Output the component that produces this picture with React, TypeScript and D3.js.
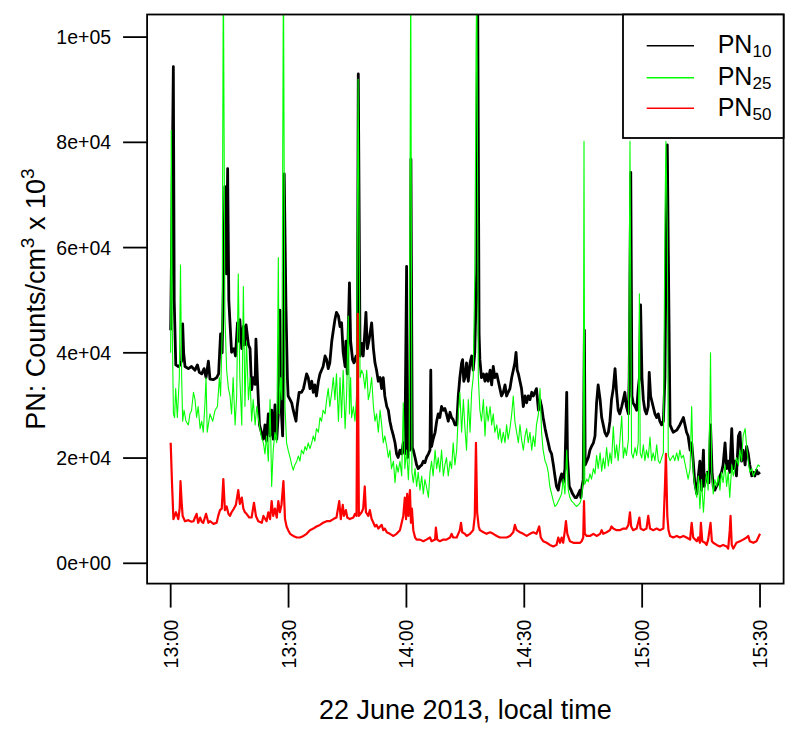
import React from "react";
import * as d3 from "d3";

// time in minutes after 13:00, values in thousands of counts
const pn10: [number, number][] = [
[0,44.3],[0.2,58],[0.68,94.4],[0.9,50],[1.3,37.7],[1.95,37.4],[2.37,37.7],[2.8,38.5],[3.05,45.5],[3.3,40],[3.65,37.4],[4.5,37.0],[5.3,37.4],[6.2,36.7],[6.8,37.7],[7.3,36.3],[7.9,36.0],[8.5,37.0],[9.0,35.3],[9.6,38.4],[10.0,35.0],[10.9,34.9],[11.7,35.3],[12.2,36.0],[12.7,43.6],[13.1,40],[13.6,60],[13.8,71.6],[14.2,55],[14.5,75.0],[14.8,50],[15.1,45.7],[15.5,40.1],[16.1,40.8],[16.5,39.4],[17.0,45.7],[17.4,42.2],[17.6,46.3],[18.1,40.8],[18.5,45.0],[18.8,41.5],[19.2,45.3],[19.8,41.5],[20.2,40.8],[20.6,33.0],[21.0,35.3],[21.5,34.0],[21.7,42.6],[22.1,34.6],[22.6,26.3],[23.2,24.6],[23.6,23.6],[24.0,26.3],[24.4,23.2],[24.85,28.4],[25.3,24.2],[25.7,29.1],[26.1,23.6],[26.55,30.1],[27.0,23.6],[27.4,28.4],[27.8,48.1],[28.1,29.8],[28.5,24.2],[28.7,35.3],[28.9,74.0],[29.35,48.4],[29.7,35.3],[29.9,31.8],[30.4,31.1],[30.8,30.5],[31.2,29.1],[31.9,27.0],[32.2,29.8],[32.7,32.5],[33.3,32.5],[33.8,33.2],[34.2,34.6],[34.6,36.0],[35.0,35.3],[35.45,33.2],[35.9,34.6],[36.3,32.5],[36.7,33.9],[37.1,31.8],[37.6,34.6],[38.0,36.0],[38.4,36.7],[38.8,37.4],[39.3,39.4],[39.7,38.7],[40.1,37.0],[40.5,38.1],[41.0,42.2],[41.4,44.3],[41.8,46.3],[42.2,47.7],[42.7,47.0],[43.1,45.0],[43.5,45.7],[43.9,40.1],[44.4,37.4],[44.6,42.2],[44.95,36.0],[45.2,44.3],[45.5,53.3],[45.8,42.2],[46.3,38.7],[46.65,38.1],[47.2,39.4],[47.5,38.1],[47.75,93.0],[48.2,39.4],[48.6,41.8],[49.0,39.4],[49.45,44.3],[49.7,47.7],[50.05,40.8],[50.6,42.9],[51.15,45.7],[51.6,40.8],[52.0,38.1],[52.4,36.7],[52.85,34.6],[53.3,35.3],[53.7,33.2],[54.1,35.3],[54.5,31.8],[55.0,29.8],[55.4,29.1],[55.8,27.0],[56.2,25.6],[56.7,24.2],[57.1,22.9],[57.5,20.8],[57.9,20.1],[58.35,21.5],[58.8,20.8],[59.2,22.9],[59.6,20.8],[60.05,56.4],[60.3,20.1],[60.65,24.9],[60.9,21.5],[61.15,76.8],[61.5,22.0],[61.75,21.5],[62.2,20.1],[62.6,18.7],[63.0,18.0],[63.45,18.4],[63.9,18.7],[64.3,19.4],[64.7,19.1],[65.1,20.1],[65.6,20.8],[66.0,21.5],[66.2,36.7],[66.4,22.2],[66.8,23.6],[67.3,24.9],[67.7,27.0],[68.1,28.4],[68.5,27.7],[68.95,29.8],[69.4,29.1],[69.8,29.4],[70.2,28.4],[70.65,27.0],[71.1,28.7],[71.5,27.7],[71.9,27.3],[72.35,26.3],[72.8,26.3],[73.2,31.8],[73.6,35.3],[74.05,38.1],[74.3,38.7],[74.6,34.6],[74.9,35.3],[75.3,38.1],[75.75,34.6],[76.2,38.1],[76.6,39.4],[77.0,36.7],[77.4,40.1],[77.9,56.0],[78.1,115],[78.5,43.6],[78.7,38.7],[79.1,35.3],[79.6,36.0],[80.0,34.6],[80.4,36.0],[80.8,34.6],[81.3,36.7],[81.7,33.9],[82.1,37.4],[82.5,35.3],[83.0,36.0],[83.4,34.6],[83.8,33.2],[84.2,31.8],[84.65,32.5],[85.1,33.9],[85.5,31.8],[85.9,32.5],[86.35,33.2],[86.8,35.3],[87.2,36.7],[87.6,38.1],[87.9,40.1],[88.2,36.7],[88.5,36.0],[88.9,34.6],[89.3,33.2],[89.75,29.8],[90.2,31.8],[90.6,30.5],[91.0,31.8],[91.45,31.1],[91.9,32.5],[92.3,31.8],[92.7,32.5],[93.1,33.2],[93.6,29.1],[94.0,31.1],[94.4,29.8],[94.8,27.7],[95.3,25.6],[95.7,24.2],[96.1,22.9],[96.5,21.5],[96.95,20.8],[97.4,18.7],[97.8,16.6],[98.2,14.6],[98.65,13.9],[99.1,16.0],[99.5,17.0],[99.9,15.3],[100.35,18.0],[100.8,32.5],[101.0,20.1],[101.45,14.6],[101.9,13.9],[102.3,13.2],[102.9,12.5],[103.3,12.5],[103.75,13.2],[104.2,13.9],[104.4,12.5],[104.7,14.6],[105.0,15.9],[105.3,44.3],[105.5,18.7],[105.9,19.4],[106.3,20.1],[106.7,21.5],[107.1,22.2],[107.6,22.9],[108.0,24.2],[108.4,30.5],[108.8,33.9],[109.3,31.1],[109.7,27.7],[110.1,26.3],[110.5,24.9],[110.95,24.2],[111.4,24.9],[111.8,27.0],[112.2,31.1],[112.65,33.2],[113.1,37.0],[113.5,32.5],[113.9,29.1],[114.3,28.4],[114.8,29.8],[115.2,31.1],[115.6,32.5],[116.0,29.8],[116.5,28.4],[116.7,35.3],[117.1,74.3],[117.4,31.8],[117.7,30.5],[118.2,29.8],[118.6,29.1],[119.0,33.2],[119.3,35.3],[119.6,49.1],[119.95,35.3],[120.3,31.1],[120.7,29.1],[121.1,28.4],[121.55,29.8],[121.8,36.3],[122.15,31.8],[122.8,29.8],[123.25,28.4],[123.7,27.7],[124.1,28.4],[124.5,27.0],[124.95,26.3],[125.4,27.0],[125.8,35.3],[126.05,56.0],[126.4,79.5],[126.7,56.0],[127.1,26.3],[127.5,25.6],[127.9,24.9],[128.8,25.3],[129.6,26.3],[130.5,27.7],[130.9,26.3],[131.3,24.9],[131.7,24.2],[132.2,21.5],[132.6,22.9],[133.0,19.4],[133.4,15.3],[133.9,13.2],[134.3,16.6],[134.7,19.4],[135.1,13.9],[135.6,21.5],[135.8,14.6],[136.2,15.9],[136.6,17.3],[137.0,15.3],[137.4,26.3],[137.8,17.3],[138.1,14.6],[138.5,13.9],[138.9,14.6],[139.4,15.3],[139.8,16.6],[140.2,17.3],[140.6,18.7],[141.1,22.9],[141.5,18.0],[141.9,19.4],[142.3,17.3],[142.8,25.6],[143.2,18.0],[143.6,19.4],[144.0,16.6],[144.5,24.2],[144.9,24.9],[145.3,19.4],[145.7,21.5],[146.2,18.7],[146.6,22.2],[147.0,20.8],[147.4,18.7],[147.9,16.6],[148.3,17.3],[148.7,16.6],[149.1,17.7],[149.5,17.0],[150,17.3]
];

const pn25: [number, number][] = [
[0,40],[0.15,82.3],[0.4,45],[0.7,28.4],[1.0,27.7],[1.27,33.2],[1.7,27.7],[2.2,35.3],[2.5,56.7],[2.8,35.3],[3.05,27.0],[3.4,29.1],[3.9,27.0],[4.5,26.3],[4.9,28.4],[5.3,29.0],[5.8,32.5],[6.2,31.1],[6.6,27.7],[7.0,29.8],[7.5,25.6],[7.9,27.0],[8.3,24.9],[8.7,30],[9.0,35.3],[9.3,24.9],[10.0,28.4],[10.7,27.0],[11.3,29.1],[11.9,29.8],[12.4,35.3],[12.7,31.8],[13.1,43.6],[13.4,115],[13.8,47.0],[14.25,36.7],[14.7,33.2],[15.1,31.8],[15.5,28.4],[15.9,35.3],[16.4,26.3],[16.8,31.8],[17.2,55.0],[17.6,35.3],[18.1,26.3],[18.5,52.6],[18.9,29.8],[19.3,42.2],[19.8,31.1],[20.2,35.3],[20.6,27.0],[21.0,31.1],[21.5,26.3],[21.9,29.8],[22.3,27.7],[22.7,25.6],[23.2,23.6],[23.6,22.9],[24.0,20.8],[24.4,24.2],[24.85,19.4],[25.3,31.1],[25.7,14.6],[26.1,21.5],[26.55,24.9],[27.0,22.9],[27.4,58.1],[27.65,28.4],[28.0,35.3],[28.3,31.1],[28.7,115],[29.1,29.8],[29.5,22.9],[29.9,21.5],[30.4,20.1],[30.8,18.7],[31.2,17.7],[31.6,18.7],[32.1,19.4],[32.5,20.4],[32.9,19.4],[33.3,21.5],[33.8,20.8],[34.2,22.2],[34.6,21.5],[35.0,22.9],[35.45,21.8],[35.9,22.9],[36.3,24.2],[36.7,23.2],[37.1,25.6],[37.6,24.9],[38.0,27.7],[38.4,27.0],[38.8,29.1],[39.3,28.4],[39.7,31.1],[40.1,33.2],[40.5,29.8],[41.0,32.5],[41.4,35.3],[41.8,31.1],[42.2,36.0],[42.7,27.0],[43.1,35.3],[43.5,27.7],[43.9,36.7],[44.4,25.6],[44.8,32.5],[45.2,47.0],[45.5,28.4],[45.8,35.3],[46.05,27.7],[46.5,29.8],[46.9,27.0],[47.3,31.8],[47.7,92.0],[48.2,35.3],[48.6,36.7],[49.0,36.0],[49.45,33.2],[49.9,36.7],[50.3,31.1],[50.7,32.5],[51.15,35.3],[51.6,29.8],[52.0,27.0],[52.4,28.4],[52.85,24.9],[53.3,29.1],[53.7,26.3],[54.1,22.9],[54.5,24.2],[55.0,22.2],[55.4,20.1],[55.8,21.5],[56.2,18.0],[56.7,19.4],[57.1,15.3],[57.5,18.7],[57.9,17.3],[58.35,19.4],[58.8,16.6],[59.2,30.5],[59.6,18.0],[60.05,21.5],[60.5,15.9],[60.7,19.4],[61.1,115],[61.4,17.3],[61.75,15.3],[62.2,18.0],[62.6,14.6],[63.0,17.3],[63.45,13.9],[63.9,16.6],[64.3,13.2],[64.7,15.9],[65.1,14.6],[65.6,12.5],[66.0,17.3],[66.4,19.4],[66.8,16.6],[67.3,21.5],[67.7,18.0],[68.1,20.1],[68.5,17.3],[68.95,21.5],[69.4,16.6],[69.8,18.7],[70.2,20.1],[70.65,16.6],[71.1,19.4],[71.5,18.0],[71.9,22.9],[72.35,18.7],[72.8,21.5],[73.2,28.4],[73.6,32.5],[74.05,24.9],[74.5,31.1],[74.9,25.6],[75.3,21.5],[75.75,31.1],[76.2,24.9],[76.6,32.5],[77.0,35.3],[77.4,54.6],[77.9,115],[78.3,35.3],[78.7,29.1],[79.1,27.0],[79.6,31.1],[80.0,24.2],[80.4,29.8],[80.8,27.0],[81.3,29.8],[81.7,26.3],[82.1,28.4],[82.5,24.9],[83.0,26.3],[83.4,23.6],[83.8,25.6],[84.2,22.9],[84.65,24.9],[85.1,22.9],[85.5,26.3],[85.9,23.6],[86.35,25.6],[86.8,28.4],[87.2,31.8],[87.6,27.0],[88.05,24.9],[88.5,22.9],[88.9,26.3],[89.3,23.6],[89.75,21.5],[90.2,24.2],[90.6,25.6],[91.0,22.9],[91.45,24.9],[91.9,21.5],[92.3,24.2],[92.7,22.2],[93.1,26.3],[93.6,28.4],[94.0,33.2],[94.4,24.9],[94.8,21.5],[95.3,19.4],[95.7,18.7],[96.1,17.3],[96.5,14.6],[96.95,13.2],[97.4,11.8],[97.8,10.8],[98.2,11.1],[98.65,11.8],[99.1,12.5],[99.5,13.2],[99.9,16.0],[100.35,13.2],[100.8,21.5],[101.2,13.9],[101.6,12.5],[102.05,11.8],[102.5,11.5],[102.9,11.1],[103.3,10.8],[103.75,11.1],[104.2,11.5],[104.6,12.5],[105.0,15.9],[105.2,80.2],[105.4,15.0],[105.9,16.0],[106.3,15.5],[106.7,17.0],[107.1,16.0],[107.6,18.0],[108.0,17.0],[108.4,20.5],[108.8,18.0],[109.3,21.0],[109.7,17.5],[110.1,20.0],[110.5,18.0],[110.95,22.0],[111.4,18.5],[111.8,21.0],[112.2,19.0],[112.65,26.0],[113.1,20.0],[113.5,22.5],[113.9,19.5],[114.3,23.0],[114.8,28.0],[115.2,20.0],[115.6,22.0],[116.0,20.5],[116.5,23.5],[116.9,80.2],[117.3,21.0],[117.7,20.0],[118.2,22.0],[118.6,20.5],[119.0,23.0],[119.3,51.2],[119.5,21.0],[119.9,20.0],[120.3,22.5],[120.7,19.5],[121.1,21.5],[121.55,20.0],[122.0,24.0],[122.4,19.5],[122.8,21.0],[123.25,19.5],[123.7,22.5],[124.1,19.5],[124.5,19.0],[124.95,20.0],[125.4,21.0],[125.8,65.7],[126.05,80.2],[126.4,62.9],[126.65,20.5],[127.1,19.5],[127.5,20.0],[127.9,20.5],[128.3,19.5],[128.8,21.0],[129.2,19.5],[129.6,21.5],[130.0,20.0],[130.5,20.5],[130.9,19.0],[131.3,17.5],[131.7,16.0],[132.2,18.0],[132.6,29.8],[133.0,17.3],[133.4,14.6],[133.9,12.5],[134.3,16.6],[134.7,10.4],[135.1,15.9],[135.6,9.7],[136.0,14.6],[136.4,17.3],[136.8,13.9],[137.25,30],[137.4,40],[137.7,17.3],[138.1,13.2],[138.5,15.9],[138.95,14.6],[139.4,16.6],[139.8,13.9],[140.2,17.3],[140.6,15.3],[141.1,18.7],[141.5,14.6],[141.9,17.3],[142.3,12.5],[142.8,18.7],[143.2,16.6],[143.6,18.0],[144.0,20.1],[144.5,18.7],[144.9,21.5],[145.3,19.4],[145.7,24.2],[146.2,25.6],[146.6,22.2],[147.0,19.4],[147.4,17.3],[147.9,18.0],[148.3,16.6],[148.7,17.3],[149.1,18.0],[149.5,18.7],[150,18.4]
];

const pn50: [number, number][] = [
[0,22.9],[0.35,15],[0.7,8.4],[1.35,9.7],[1.95,8.4],[2.3,10.5],[2.5,15.6],[2.8,11.5],[3.05,9.0],[3.65,8.0],[4.5,8.2],[5.3,7.9],[5.8,8.0],[6.2,8.7],[6.6,9.4],[7.0,7.7],[7.5,8.7],[7.9,7.9],[8.3,7.7],[9.0,9.4],[9.6,7.7],[10.0,8.0],[10.9,7.5],[11.7,7.7],[12.1,9.0],[12.55,10.1],[13.0,10.4],[13.4,16.0],[13.8,10.1],[14.25,10.8],[14.7,9.4],[15.1,9.0],[15.5,9.7],[16.1,10.4],[16.6,11.1],[17.2,13.9],[17.6,11.3],[18.1,12.5],[18.5,10.4],[18.9,9.7],[19.3,9.4],[20.0,8.7],[20.6,8.7],[21.2,11.5],[21.7,9.0],[22.3,8.0],[23.2,7.7],[23.6,9.0],[24.4,8.0],[24.85,9.7],[25.3,8.4],[25.7,11.8],[26.1,9.0],[26.55,10.4],[27.0,8.7],[27.4,11.8],[27.8,9.7],[28.2,11.1],[28.7,15.6],[29.1,8.4],[29.5,7.0],[29.9,6.3],[30.4,5.6],[31.2,5.2],[32.1,4.9],[32.9,4.9],[33.8,5.2],[34.6,5.6],[35.45,6.3],[36.3,6.6],[37.1,7.0],[38.0,7.3],[38.8,7.7],[39.7,8.0],[40.5,8.0],[41.4,8.4],[42.2,8.7],[42.9,11.8],[43.3,8.4],[43.8,11.1],[44.1,9.0],[44.6,10.1],[44.95,8.7],[45.6,8.4],[46.5,8.7],[46.9,9.4],[47.3,9.0],[47.6,47.4],[47.9,9.0],[48.6,9.7],[49.0,10.4],[49.4,14.6],[49.7,9.7],[50.3,9.0],[50.7,10.1],[51.15,8.4],[51.6,7.7],[52.0,7.0],[52.4,7.3],[52.85,6.6],[53.3,7.0],[53.7,7.3],[54.1,6.3],[54.5,6.6],[55.0,5.9],[55.8,5.6],[56.7,5.2],[57.5,5.6],[58.35,6.3],[58.8,7.7],[59.2,9.0],[59.6,12.5],[59.9,8.4],[60.2,13.2],[60.5,9.0],[60.9,13.9],[61.15,7.7],[61.4,10.4],[61.75,6.3],[62.2,4.9],[62.6,4.5],[63.45,4.5],[64.3,4.2],[65.1,4.5],[66.0,4.9],[66.4,4.2],[67.3,4.5],[67.5,6.8],[67.85,4.5],[68.5,4.2],[69.4,4.5],[70.2,4.5],[71.1,4.9],[71.5,5.6],[71.9,4.9],[72.8,4.9],[73.6,6.3],[73.9,7.7],[74.2,5.9],[74.9,5.6],[75.3,5.2],[76.2,5.6],[77.0,6.3],[77.4,9.0],[77.7,22.9],[78.0,9.7],[78.4,7.0],[78.7,6.3],[79.6,5.9],[80.4,5.6],[81.3,5.9],[82.1,5.6],[83.0,5.2],[83.8,4.9],[84.65,4.9],[85.5,4.9],[86.35,5.2],[87.2,5.9],[87.6,7.3],[88.05,6.3],[88.9,5.9],[89.75,5.6],[90.6,5.2],[91.45,5.6],[92.3,5.9],[93.1,5.6],[93.8,7.0],[94.2,4.9],[94.8,4.2],[95.7,3.9],[96.5,3.5],[97.4,3.2],[98.2,3.5],[98.65,4.9],[99.1,3.9],[99.5,4.9],[99.9,3.9],[100.35,6.3],[100.6,8.0],[100.95,5.6],[101.6,4.2],[102.5,3.9],[103.3,3.9],[104.2,3.9],[104.6,4.2],[105.0,4.9],[105.2,11.8],[105.4,5.6],[105.9,5.2],[106.7,5.2],[107.6,5.6],[108.4,5.2],[109.3,5.6],[109.7,6.3],[110.1,5.6],[110.95,5.9],[111.8,6.3],[112.2,7.0],[112.65,6.6],[113.5,6.3],[114.3,6.3],[115.2,6.6],[116.0,6.6],[116.5,7.3],[116.9,9.7],[117.2,7.0],[117.7,6.3],[118.6,6.6],[119.3,8.7],[119.6,6.6],[120.3,6.3],[121.1,6.6],[121.55,9.0],[122.0,6.6],[122.8,6.3],[123.7,6.6],[124.5,6.3],[125.4,6.6],[125.8,14.6],[126.05,20.8],[126.4,9.0],[126.7,6.3],[127.1,5.2],[127.9,4.9],[128.8,5.2],[129.6,4.9],[130.5,5.2],[131.3,4.9],[132.2,4.5],[132.6,7.7],[133.0,4.9],[133.9,4.2],[134.3,4.9],[134.7,3.9],[134.95,7.7],[135.3,4.2],[136.0,3.9],[136.4,3.5],[136.8,4.5],[137.4,7.7],[137.75,4.2],[138.1,3.9],[138.95,3.5],[139.8,3.2],[140.6,3.5],[141.5,3.2],[141.9,2.8],[142.3,6.3],[142.5,9.0],[142.8,3.5],[143.2,2.8],[144.0,3.9],[144.9,4.2],[145.7,4.5],[146.6,4.9],[147.0,5.2],[147.4,4.2],[148.3,3.9],[149.1,4.2],[150,5.6]
];

const xTicks = [0, 30, 60, 90, 120, 150];
const xTickLabels = ["13:00", "13:30", "14:00", "14:30", "15:00", "15:30"];
const yTicks = [0, 20000, 40000, 60000, 80000, 100000];
const yTickLabels = ["0e+00", "2e+04", "4e+04", "6e+04", "8e+04", "1e+05"];
const seriesNames = ["10", "25", "50"];
const seriesColors = ["#000000", "#00ff00", "#ff0000"];

const FONT = "'Liberation Sans', Arial, Helvetica, sans-serif";

export default function App() {
  const L = 147.1, R = 783.6, T = 14.5, B = 583.6;
  const x = d3.scaleLinear().domain([-6, 156]).range([L, R]);
  const y = d3.scaleLinear().domain([-3858, 104295]).range([B, T]);
  const line = d3
    .line<[number, number]>()
    .x((d) => x(d[0]))
    .y((d) => y(d[1] * 1000));

  const series = [pn10, pn25, pn50];
  const widths = [2.8, 1.1, 2.2];

  const legX = 623, legY = T, legW = R - 623, legH = 123.5;
  const legRows = [45.7, 77.7, 108.3];

  return (
    <svg
      width={800}
      height={736}
      style={{ position: "absolute", left: 0, top: 0, background: "#fff" }}
      fontFamily={FONT}
    >
      <defs>
        <clipPath id="plotclip">
          <rect x={L} y={T} width={R - L} height={B - T} />
        </clipPath>
      </defs>
      <g clipPath="url(#plotclip)">
        {series.map((s, i) => (
          <path
            key={i}
            d={line(s) || ""}
            fill="none"
            stroke={seriesColors[i]}
            strokeWidth={widths[i]}
            strokeLinejoin="round"
          />
        ))}
      </g>
      <rect x={L} y={T} width={R - L} height={B - T} fill="none" stroke="#000" strokeWidth={1.8} />
      {yTicks.map((v, i) => (
        <g key={i}>
          <line x1={L - 24} x2={L} y1={y(v)} y2={y(v)} stroke="#000" strokeWidth={1.8} />
          <text x={L - 36} y={y(v)} dy="0.36em" textAnchor="end" fontSize={19.5}>
            {yTickLabels[i]}
          </text>
        </g>
      ))}
      {xTicks.map((v, i) => (
        <g key={i}>
          <line x1={x(v)} x2={x(v)} y1={B} y2={B + 24} stroke="#000" strokeWidth={1.8} />
          <text
            transform={`translate(${x(v)},${B + 36}) rotate(-90)`}
            dy="0.36em"
            textAnchor="end"
            fontSize={19.5}
          >
            {xTickLabels[i]}
          </text>
        </g>
      ))}
      <text x={(L + R) / 2} y={719} textAnchor="middle" fontSize={27}>
        22 June 2013, local time
      </text>
      <text transform={`translate(45,${(T + B) / 2}) rotate(-90)`} textAnchor="middle" fontSize={27}>
        PN: Counts/cm
        <tspan dy={-11} fontSize={19}>3</tspan>
        <tspan dy={11}> x 10</tspan>
        <tspan dy={-11} fontSize={19}>3</tspan>
      </text>
      <rect x={legX} y={legY} width={legW} height={legH} fill="#fff" stroke="#000" strokeWidth={1.8} />
      {legRows.map((ly, i) => (
        <g key={i}>
          <line x1={646.7} x2={694} y1={ly} y2={ly} stroke={seriesColors[i]} strokeWidth={1.5} />
          <text x={717.7} y={ly + 7.6} fontSize={25}>
            PN
            <tspan dy={4} fontSize={17}>{seriesNames[i]}</tspan>
          </text>
        </g>
      ))}
    </svg>
  );
}
